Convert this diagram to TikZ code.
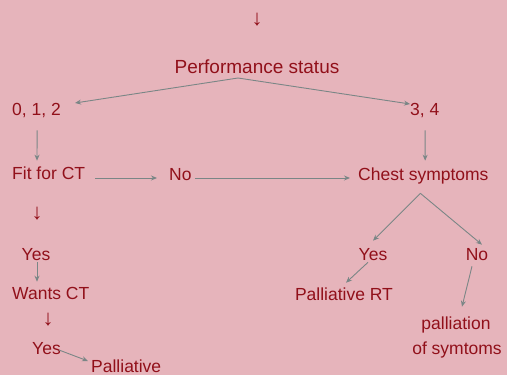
\documentclass[tikz,border=0pt]{standalone}
\usepackage{fontspec}
\setmainfont{Liberation Sans}
\newfontfamily\arrowfont{Liberation Serif}
\usetikzlibrary{calc,arrows.meta}
\definecolor{bgpink}{RGB}{230,180,187}
\definecolor{txtred}{RGB}{145,16,26}
\definecolor{lngray}{RGB}{122,134,134}
\begin{document}
\begin{tikzpicture}[x=1pt,y=-1pt,
  lbl/.style={inner sep=0pt,text=txtred,font=\fontsize{17.5}{20}\selectfont,text height=12.5pt,text depth=3.7pt},
  biglbl/.style={lbl,font=\fontsize{19}{22}\selectfont,text height=13.6pt,text depth=4pt},
  downglyph/.style={inner sep=0pt,text=txtred,font=\arrowfont\fontsize{22}{24}\selectfont},
  arr/.style={draw=lngray,line width=0.9pt,-{Stealth[length=6pt,width=5pt]}}]
\fill[bgpink] (0,0) rectangle (507,375);
\useasboundingbox (0,0) rectangle (507,375);
% nodes
\node[downglyph] (a0) at (257,20) {↓};
\node[biglbl] (ps) at (257,69) {Performance status};
\node[lbl,anchor=west] (z12) at (12,111) {0, 1, 2};
\node[lbl,anchor=west] (t34) at (410,111) {3, 4};
\node[lbl,anchor=west] (fit) at (12,175) {Fit for CT};
\node[lbl,anchor=west] (no1) at (169,176) {No};
\node[lbl,anchor=west] (chest) at (358,176) {Chest symptoms};
\node[downglyph] (a1) at (37,214) {↓};
\node[lbl] (yes1) at (36,256) {Yes};
\node[lbl,anchor=west] (wants) at (12,295) {Wants CT};
\node[downglyph] (a2) at (48,320) {↓};
\node[lbl,anchor=west] (yes2) at (32,350) {Yes};
\node[lbl,anchor=west] (pall) at (91,368) {Palliative};
\node[lbl] (yes3) at (373,256) {Yes};
\node[lbl] (no3) at (477,256) {No};
\node[lbl] (prt) at (344,296) {Palliative RT};
\node[lbl] (palm) at (456,325) {palliation};
\node[lbl] (ofs) at (457,350) {of symtoms};
% forks
\coordinate (psf) at ($(ps.south)+(-19,0)$);
\coordinate (cf) at ($(chest.south)+(-3,9)$);
% connectors
\draw[arr] (psf) -- ($(z12.east)+(14,-8)$);
\draw[arr] (psf) -- ($(t34.west)+(0,-7)$);
\draw[arr] ($(z12.south)+(0.6,11)$) -- ($(fit.north west)+(25,-6)$);
\draw[arr] ($(fit.east)+(10,3)$) -- ($(no1.west)+(-12,2)$);
\draw[arr] ($(no1.east)+(3,2)$) -- ($(chest.west)+(-8,2)$);
\draw[arr] ($(t34.south)+(0.4,11)$) -- ($(chest.north)+(1.8,-7)$);
\draw[arr] (cf) -- ($(yes3.north)+(0,-7)$);
\draw[arr] (cf) -- ($(no3.north)+(5,-3)$);
\draw[arr] ($(yes3.south)+(-5,-2)$) -- ($(prt.north)+(2,-5)$);
\draw[arr] ($(no3.south)+(-5,2)$) -- ($(palm.north)+(6,-10)$);
\draw[arr] ($(yes1.south)+(1,-2)$) -- ($(wants.north west)+(25,-5)$);
\draw[arr] ($(yes2.east)+(-2,0)$) -- ($(pall.west)+(-3,-7)$);
\end{tikzpicture}
\end{document}
